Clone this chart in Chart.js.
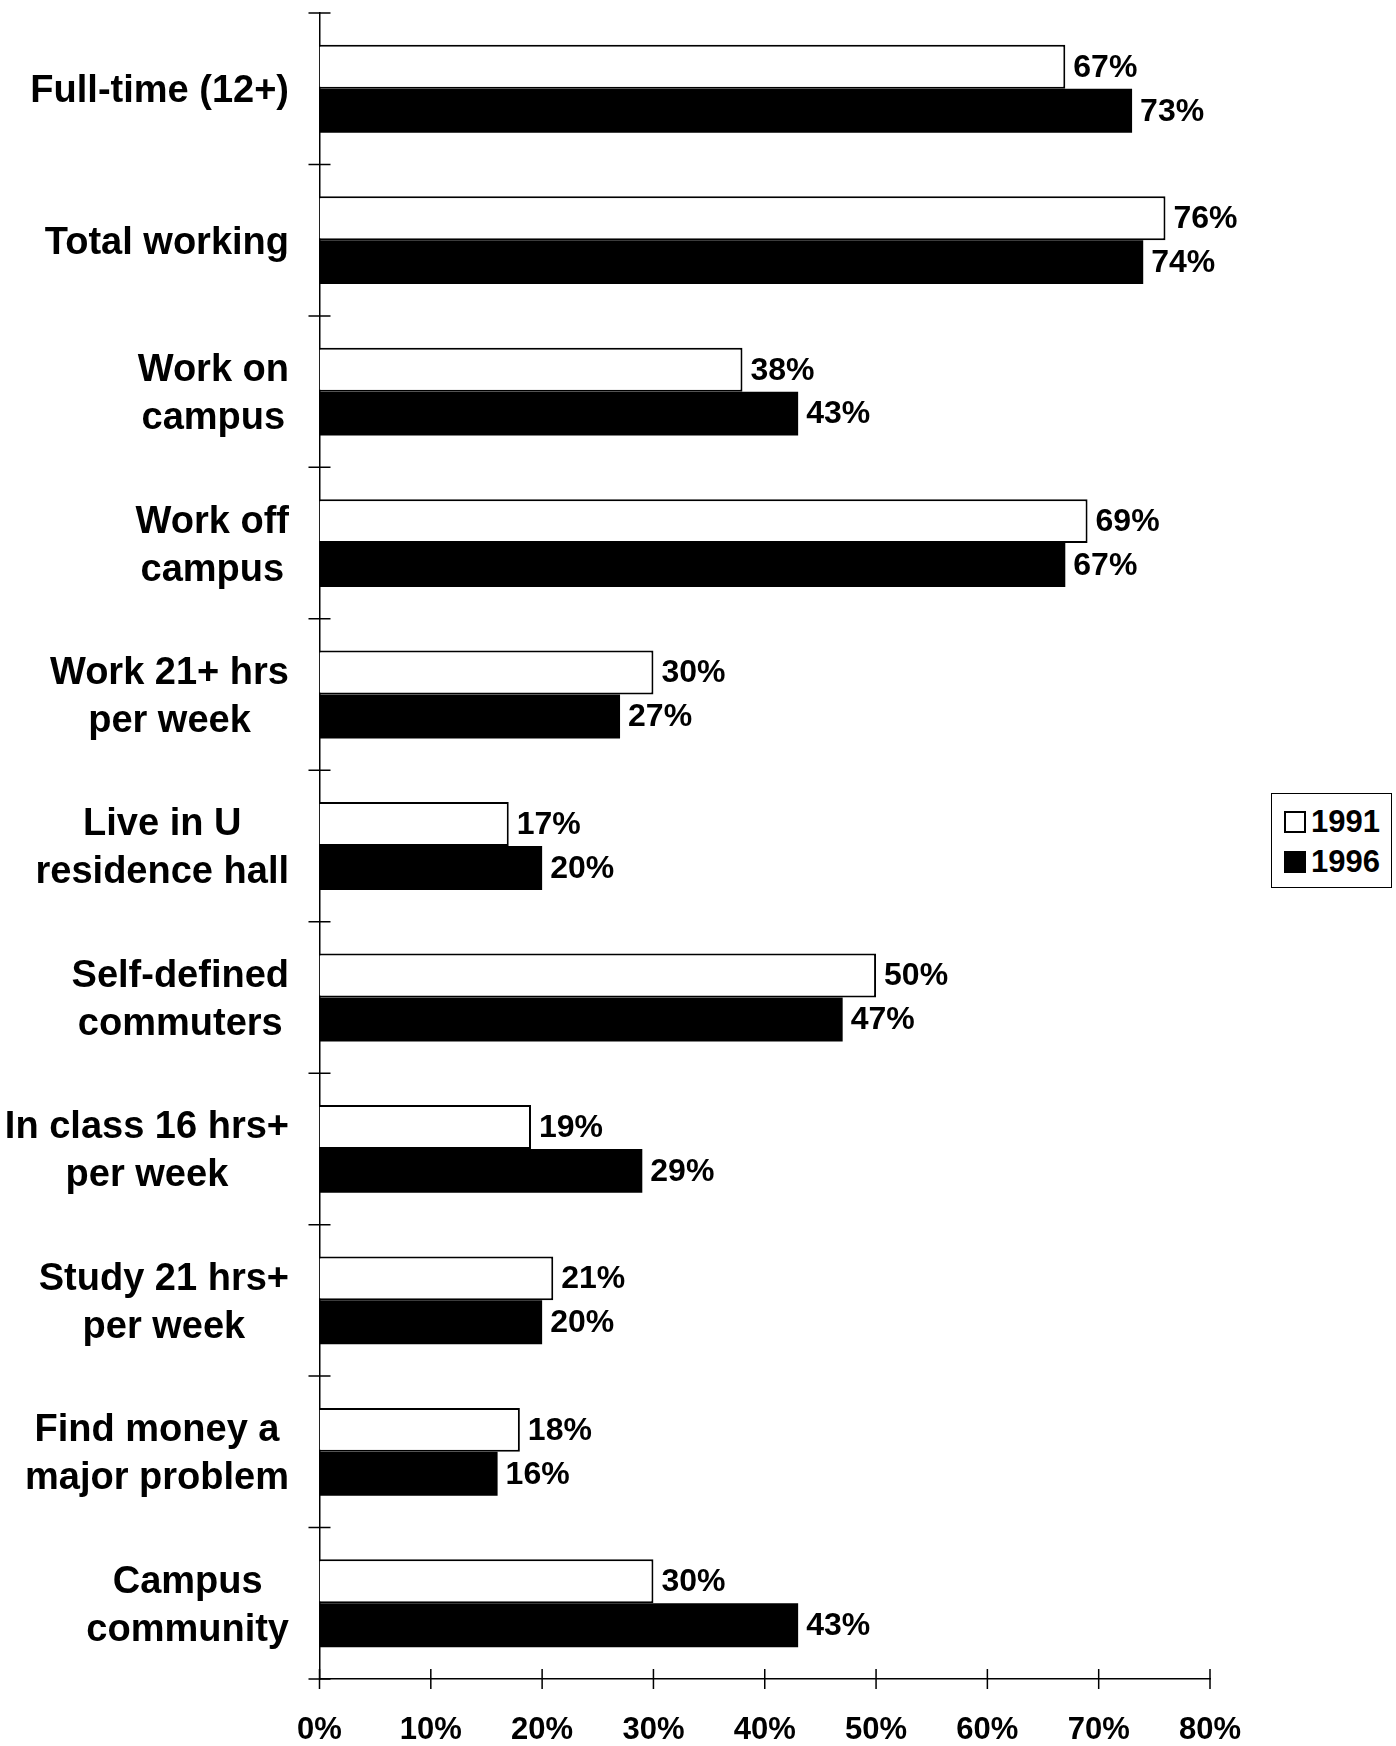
<!DOCTYPE html>
<html>
<head>
<meta charset="utf-8">
<script src="https://cdn.jsdelivr.net/npm/chart.js@4.4.0/dist/chart.umd.min.js"></script>
<style>
  html, body { margin: 0; padding: 0; background: #fff; }
  .wrap { position: relative; width: 1396px; height: 1746px; }
  .legend {
    position: absolute; left: 1271px; top: 793px; width: 121px; height: 95px;
    box-sizing: border-box; border: 1.5px solid #000; background: #fff;
    font: bold 31px "Liberation Sans", Arial, sans-serif; color: #000;
    padding-top: 8px;
  }
  .legend div { display: flex; align-items: center; height: 40px; padding-left: 12px; }
  .legend span { display: inline-block; width: 22px; height: 22px; box-sizing: border-box;
    border: 2px solid #000; margin-right: 5px; }
</style>
</head>
<body>
<div class="wrap">
  <canvas id="chart" width="1396" height="1746"></canvas>
  <div class="legend">
    <div><span style="background:#fff"></span>1991</div>
    <div><span style="background:#000"></span>1996</div>
  </div>
</div>
<script>
// DATA
const categories = [
  ["Full-time (12+)"],
  ["Total working"],
  ["Work on", "campus"],
  ["Work off", "campus"],
  ["Work 21+ hrs", "per week"],
  ["Live in U", "residence hall"],
  ["Self-defined", "commuters"],
  ["In class 16 hrs+", "per week"],
  ["Study 21 hrs+", "per week"],
  ["Find money a", "major problem"],
  ["Campus", "community"]
];
const values1991 = [67, 76, 38, 69, 30, 17, 50, 19, 21, 18, 30];
const values1996 = [73, 74, 43, 67, 27, 20, 47, 29, 20, 16, 43];
const xTicks = [0, 10, 20, 30, 40, 50, 60, 70, 80];

const FONT = '"Liberation Sans", Arial, sans-serif';

// tick marks that cross the axis lines
const axisMarks = {
  id: "axisMarks",
  afterDraw(chart) {
    const { ctx, scales: { x, y } } = chart;
    ctx.save();
    ctx.strokeStyle = "#000";
    ctx.lineWidth = 1.5;
    ctx.beginPath();
    for (let i = 0; i <= categories.length; i++) {
      const py = y.getPixelForValue(i - 0.5);
      ctx.moveTo(x.left - 11, py);
      ctx.lineTo(x.left + 11, py);
    }
    xTicks.forEach(v => {
      const px = x.getPixelForValue(v);
      ctx.moveTo(px, y.bottom - 10);
      ctx.lineTo(px, y.bottom + 10);
    });
    ctx.stroke();
    ctx.restore();
  }
};

// category names: block right-aligned to the axis, lines centred in the block
const categoryLabels = {
  id: "categoryLabels",
  afterDraw(chart) {
    const { ctx, scales: { y } } = chart;
    const right = 289, lineH = 48;
    ctx.save();
    ctx.font = "bold 38px " + FONT;
    ctx.fillStyle = "#000";
    ctx.textAlign = "center";
    ctx.textBaseline = "middle";
    categories.forEach((lines, i) => {
      const w = Math.max(...lines.map(l => ctx.measureText(l).width));
      const cx = right - w / 2;
      const cy = y.getPixelForValue(i) + 3;
      lines.forEach((l, k) => {
        ctx.fillText(l, cx, cy - (lines.length - 1) * lineH / 2 + k * lineH);
      });
    });
    ctx.restore();
  }
};

// percentage next to each bar end
const valueLabels = {
  id: "valueLabels",
  afterDatasetsDraw(chart) {
    const { ctx } = chart;
    ctx.save();
    ctx.font = "bold 32px " + FONT;
    ctx.fillStyle = "#000";
    ctx.textAlign = "left";
    ctx.textBaseline = "middle";
    chart.data.datasets.forEach((ds, d) => {
      chart.getDatasetMeta(d).data.forEach((bar, i) => {
        ctx.fillText(ds.data[i] + "%", bar.x + 8, bar.y + 1);
      });
    });
    ctx.restore();
  }
};

const ctx = document.getElementById("chart").getContext("2d");

const myChart = new Chart(ctx, {
  type: "bar",
  data: {
    labels: categories,
    datasets: [
      {
        label: "1991",
        data: values1991,
        backgroundColor: "#fff",
        borderColor: "#000",
        borderWidth: 2,
        categoryPercentage: 0.58,
        barPercentage: 1
      },
      {
        label: "1996",
        data: values1996,
        backgroundColor: "#000",
        borderColor: "#000",
        borderWidth: 0,
        categoryPercentage: 0.58,
        barPercentage: 1
      }
    ]
  },
  options: {
    indexAxis: "y",
    responsive: false,
    animation: false,
    devicePixelRatio: 1,
    layout: { padding: { top: 13, right: 186, left: 0, bottom: 0 } },
    plugins: {
      legend: { display: false },
      tooltip: { enabled: false }
    },
    scales: {
      x: {
        type: "linear",
        min: 0,
        max: 80,
        afterFit: s => { s.height = 67; },
        afterBuildTicks: s => { s.ticks = xTicks.map(v => ({ value: v })); },
        grid: { display: false, drawTicks: false },
        border: { display: true, color: "#000", width: 1.5 },
        ticks: {
          padding: 33,
          color: "#000",
          font: { family: FONT, size: 31, weight: "bold" },
          callback: v => v + "%",
          maxRotation: 0,
          autoSkip: false
        }
      },
      y: {
        type: "category",
        offset: true,
        afterFit: s => { s.width = 319.5; },
        grid: { display: false, drawTicks: false },
        border: { display: true, color: "#000", width: 1.5 },
        ticks: { display: false }
      }
    }
  },
  plugins: [axisMarks, categoryLabels, valueLabels]
});
</script>
</body>
</html>
